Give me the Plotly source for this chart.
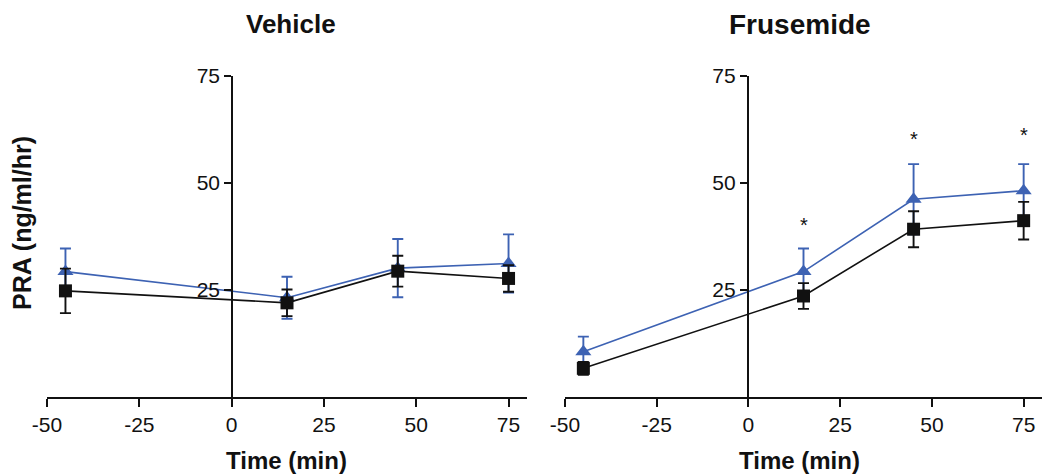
import plotly.graph_objects as go

time_points = [-45, 15, 45, 75]

veh_tri = [29.3, 23.2, 30.1, 31.2]
veh_tri_err = [5.4, 4.9, 6.8, 6.8]
veh_sq = [24.8, 22.0, 29.4, 27.7]
veh_sq_err = [5.2, 3.1, 3.6, 3.1]

fru_tri = [10.6, 29.3, 46.2, 48.2]
fru_tri_err = [3.5, 5.4, 8.2, 6.2]
fru_sq = [6.7, 23.6, 39.2, 41.2]
fru_sq_err = [1.5, 3.0, 4.2, 4.4]

star_x = [15, 45, 75]
star_y = [40.2, 60.2, 61.2]

x_ticks = [-50, -25, 0, 25, 50, 75]
x_tick_labels = ["-50", "-25", "0", "25", "50", "75"]
y_ticks = [25, 50, 75]
y_tick_labels = ["25", "50", "75"]

BLUE = "#3d62b3"
BLACK = "#111111"
FONT = "Arial, Liberation Sans, sans-serif"

W, H = 1045, 476
fig = go.Figure()

def add_pair(xa, ya, tri, tri_err, sq, sq_err):
    fig.add_trace(go.Scatter(
        x=time_points, y=tri, xaxis=xa, yaxis=ya, mode="lines+markers",
        line=dict(color=BLUE, width=1.6),
        marker=dict(symbol="triangle-up", size=14, color=BLUE),
        error_y=dict(type="data", array=tri_err, visible=True, color=BLUE,
                     thickness=1.9, width=5.5),
        showlegend=False, cliponaxis=False))
    fig.add_trace(go.Scatter(
        x=time_points, y=sq, xaxis=xa, yaxis=ya, mode="lines+markers",
        line=dict(color=BLACK, width=1.6),
        marker=dict(symbol="square", size=13, color=BLACK),
        error_y=dict(type="data", array=sq_err, visible=True, color=BLACK,
                     thickness=1.9, width=5.5),
        showlegend=False, cliponaxis=False))

add_pair("x", "y", veh_tri, veh_tri_err, veh_sq, veh_sq_err)
add_pair("x2", "y2", fru_tri, fru_tri_err, fru_sq, fru_sq_err)

ydom = [79 / H, 400 / H]
xcommon = dict(range=[-50, 80], tickvals=x_ticks, ticktext=x_tick_labels,
               ticks="outside", ticklen=8, automargin=False,
               tickwidth=1.6, tickcolor=BLACK, showline=True, linecolor=BLACK,
               linewidth=1.6, showgrid=False, zeroline=False,
               tickfont=dict(family=FONT, size=21, color=BLACK))
ycommon = dict(range=[0, 75], tickvals=y_ticks, ticktext=y_tick_labels,
               ticks="outside", ticklen=7, automargin=False,
               tickwidth=1.6, tickcolor=BLACK, showline=True, linecolor=BLACK,
               linewidth=1.6, showgrid=False, zeroline=False, anchor="free",
               domain=ydom, tickfont=dict(family=FONT, size=21, color=BLACK))

fig.update_layout(
    width=W, height=H, margin=dict(l=0, r=0, t=0, b=0),
    paper_bgcolor="white", plot_bgcolor="rgba(0,0,0,0)",
    xaxis=dict(domain=[47 / W, 527 / W], anchor="y", **xcommon),
    xaxis2=dict(domain=[565 / W, 1042 / W], anchor="y2", **xcommon),
    yaxis=dict(position=232 / W, **ycommon),
    yaxis2=dict(position=747.7 / W, **ycommon),
)

def px(x, y):
    return x / W, 1 - y / H

annotations = []
for txt, (x, y), size, ang in [
    ("<b>Vehicle</b>", px(291, 24), 26, 0),
    ("<b>Frusemide</b>", px(800, 24), 28, 0),
    ("<b>Time (min)</b>", px(286, 460), 24, 0),
    ("<b>Time (min)</b>", px(799, 460), 24, 0),
    ("<b>PRA (ng/ml/hr)</b>", px(22, 223), 25, -90),
]:
    annotations.append(dict(text=txt, x=x, y=y, xref="paper", yref="paper",
                            showarrow=False, textangle=ang,
                            xanchor="center", yanchor="middle",
                            font=dict(family=FONT, size=size, color=BLACK)))
for sx, sy in zip(star_x, star_y):
    annotations.append(dict(text="*", x=sx, y=sy, xref="x2", yref="y2",
                            showarrow=False,
                            font=dict(family=FONT, size=20, color=BLACK)))
fig.update_layout(annotations=annotations)

fig.write_html("out.html")
